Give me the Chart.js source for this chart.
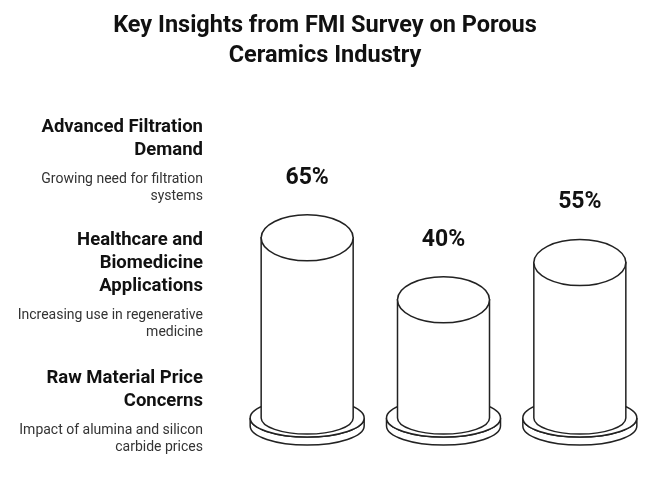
<!DOCTYPE html>
<html>
<head>
<meta charset="utf-8">
<script src="https://cdn.jsdelivr.net/npm/chart.js@4/dist/chart.umd.min.js"></script>
<style>
  body { margin: 0; background: #fff; font-family: Roboto, "Noto Sans", sans-serif; }
  #wrap { position: relative; width: 650px; height: 491px; }
  #title { position: absolute; left: 0; top: 9px; width: 650px; text-align: center;
    font-weight: bold; font-size: 23.5px; line-height: 30px; color: #111; }
  .item { position: absolute; right: 447px; text-align: right; color: #111; }
  .item h3 { margin: 0; font-size: 18.5px; line-height: 23px; font-weight: bold; }
  .item p { margin: 9px 0 0; font-size: 14px; line-height: 17px; color: #333; }
  canvas { position: absolute; left: 0; top: 0; }
</style>
</head>
<body>
<div id="wrap">
  <canvas id="chart" width="650" height="491"></canvas>
  <div id="title">Key Insights from FMI Survey on Porous<br>Ceramics Industry</div>
  <div class="item" style="top:115px"><h3>Advanced Filtration<br>Demand</h3><p>Growing need for filtration<br>systems</p></div>
  <div class="item" style="top:228px"><h3>Healthcare and<br>Biomedicine<br>Applications</h3><p>Increasing use in regenerative<br>medicine</p></div>
  <div class="item" style="top:366px"><h3>Raw Material Price<br>Concerns</h3><p>Impact of alumina and silicon<br>carbide prices</p></div>
</div>
<script>
const categories = ['Advanced Filtration Demand', 'Healthcare and Biomedicine Applications', 'Raw Material Price Concerns'];
const shares = [65, 40, 55];

// draws each bar as a cylinder standing on a disc
const cylinders = {
  id: 'cylinders',
  afterDatasetsDraw(chart) {
    const ctx = chart.ctx;
    const bottom = chart.chartArea.bottom + 19;
    chart.getDatasetMeta(0).data.forEach((bar, i) => {
      const x = bar.x, top = bar.y, rx = 46, ry = 23, brx = 57, bry = 19;
      ctx.save();
      ctx.strokeStyle = '#222';
      ctx.lineWidth = 1.5;
      ctx.fillStyle = '#fff';
      // base disc
      ctx.beginPath();
      ctx.ellipse(x, bottom + 8, brx, bry, 0, 0, Math.PI);
      ctx.lineTo(x - brx, bottom);
      ctx.ellipse(x, bottom, brx, bry, 0, Math.PI, 0, true);
      ctx.closePath();
      ctx.fill(); ctx.stroke();
      ctx.beginPath();
      ctx.ellipse(x, bottom, brx, bry, 0, 0, Math.PI * 2);
      ctx.fill(); ctx.stroke();
      // body
      ctx.beginPath();
      ctx.moveTo(x - rx, top);
      ctx.lineTo(x - rx, bottom);
      ctx.ellipse(x, bottom, rx, ry * 0.7, 0, Math.PI, 0, true);
      ctx.lineTo(x + rx, top);
      ctx.closePath();
      ctx.fill(); ctx.stroke();
      ctx.beginPath();
      ctx.ellipse(x, top, rx, ry, 0, 0, Math.PI * 2);
      ctx.fill(); ctx.stroke();
      // label
      ctx.fillStyle = '#111';
      ctx.font = 'bold 23px Roboto, sans-serif';
      ctx.textAlign = 'center';
      ctx.textBaseline = 'middle';
      ctx.fillText(shares[i] + '%', x, top - 60);
      ctx.restore();
    });
  }
};

new Chart(document.getElementById('chart'), {
  type: 'bar',
  data: {
    labels: categories,
    datasets: [{ data: shares, backgroundColor: 'rgba(0,0,0,0)', borderWidth: 0 }]
  },
  options: {
    responsive: false,
    animation: false,
    layout: { padding: { left: 239, right: 2, top: 151, bottom: 92 } },
    plugins: { legend: { display: false }, tooltip: { enabled: false } },
    scales: {
      x: { display: false },
      y: { display: false, min: 0, max: 100 }
    }
  },
  plugins: [cylinders]
});
</script>
</body>
</html>
